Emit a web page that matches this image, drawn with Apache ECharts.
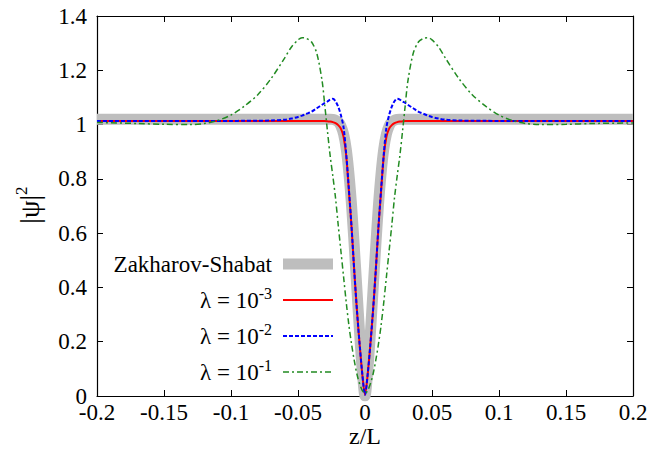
<!DOCTYPE html>
<html>
<head>
<meta charset="utf-8">
<script src="https://cdn.jsdelivr.net/npm/echarts@6/dist/echarts.min.js"></script>
<style>
  html, body { margin: 0; padding: 0; background: #fff; }
  #chart { width: 654px; height: 453px; }
</style>
</head>
<body>
<div id="chart"></div>
<script>
// Sample positions along z/L
const zGrid = [
  -0.2, -0.17, -0.15, -0.13, -0.12, -0.11, -0.1, -0.09, -0.08, -0.07, -0.06, -0.055,
  -0.05, -0.047, -0.044, -0.04, -0.036, -0.032, -0.03, -0.028, -0.026, -0.024, -0.022,
  -0.02, -0.018, -0.016, -0.014, -0.012, -0.01, -0.008, -0.006, -0.004, -0.002, 0,
  0.002, 0.004, 0.006, 0.008, 0.01, 0.012, 0.014, 0.016, 0.018, 0.02, 0.022, 0.024,
  0.026, 0.028, 0.03, 0.032, 0.036, 0.04, 0.044, 0.047, 0.05, 0.055, 0.06, 0.07,
  0.08, 0.09, 0.1, 0.11, 0.12, 0.13, 0.15, 0.17, 0.2
];

// |psi|^2, Zakharov-Shabat dark soliton
const zakharovShabat = [
  1.02, 1.02, 1.02, 1.02, 1.02, 1.02, 1.02, 1.02, 1.02, 1.02, 1.02, 1.02,
  1.02, 1.02, 1.02, 1.02, 1.02, 1.02, 1.02, 1.02, 1.02, 1.019, 1.016,
  1.01, 0.995, 0.965, 0.91, 0.82, 0.70, 0.55, 0.39, 0.23, 0.09, 0,
  0.09, 0.23, 0.39, 0.55, 0.70, 0.82, 0.91, 0.965, 0.995, 1.01, 1.016, 1.019,
  1.02, 1.02, 1.02, 1.02, 1.02, 1.02, 1.02, 1.02, 1.02, 1.02, 1.02, 1.02,
  1.02, 1.02, 1.02, 1.02, 1.02, 1.02, 1.02, 1.02, 1.02
];

// |psi|^2 for lambda = 1e-3
const lambda3 = [
  1.013, 1.013, 1.013, 1.013, 1.013, 1.013, 1.013, 1.013, 1.013, 1.013, 1.013, 1.013,
  1.013, 1.013, 1.013, 1.013, 1.013, 1.013, 1.013, 1.012, 1.011, 1.009, 1.005,
  0.998, 0.985, 0.955, 0.885, 0.755, 0.62, 0.46, 0.315, 0.19, 0.08, 0.005,
  0.08, 0.19, 0.315, 0.46, 0.62, 0.755, 0.885, 0.955, 0.985, 0.998, 1.005, 1.009,
  1.011, 1.012, 1.013, 1.013, 1.013, 1.013, 1.013, 1.013, 1.013, 1.013, 1.013, 1.013,
  1.013, 1.013, 1.013, 1.013, 1.013, 1.013, 1.013, 1.013, 1.013
];

// |psi|^2 for lambda = 1e-2
const lambda2 = [
  1.013, 1.013, 1.013, 1.013, 1.013, 1.013, 1.013, 1.014, 1.014, 1.015, 1.018, 1.022,
  1.028, 1.033, 1.039, 1.047, 1.06, 1.073, 1.08, 1.085, 1.092, 1.095, 1.086,
  1.066, 1.035, 0.99, 0.89, 0.76, 0.62, 0.46, 0.315, 0.19, 0.08, 0.005,
  0.08, 0.19, 0.315, 0.46, 0.62, 0.76, 0.89, 0.99, 1.035, 1.066, 1.086, 1.095,
  1.092, 1.085, 1.08, 1.073, 1.06, 1.047, 1.039, 1.033, 1.028, 1.022, 1.018, 1.015,
  1.014, 1.014, 1.013, 1.013, 1.013, 1.013, 1.013, 1.013, 1.013
];

// |psi|^2 for lambda = 1e-1
const lambda1 = [
  1.008, 1.004, 1.001, 1.0, 1.004, 1.015, 1.035, 1.068, 1.11, 1.17, 1.245, 1.285,
  1.312, 1.32, 1.318, 1.305, 1.263, 1.16, 1.07, 0.975, 0.885, 0.81, 0.73,
  0.63, 0.535, 0.44, 0.345, 0.26, 0.19, 0.13, 0.08, 0.045, 0.02, 0.01,
  0.02, 0.045, 0.08, 0.13, 0.19, 0.26, 0.345, 0.44, 0.535, 0.63, 0.73, 0.81,
  0.885, 0.975, 1.07, 1.16, 1.263, 1.305, 1.318, 1.32, 1.312, 1.285, 1.245, 1.17,
  1.11, 1.068, 1.035, 1.015, 1.004, 1.0, 1.001, 1.004, 1.006
];

const seriesNames = ['Zakharov-Shabat', 'λ = 10-3', 'λ = 10-2', 'λ = 10-1'];

const FONT = "'Liberation Serif', 'DejaVu Serif', serif";
const pairs = vals => zGrid.map((z, i) => [z, vals[i]]);

const chart = echarts.init(document.getElementById('chart'), null, { renderer: 'svg' });

const tickStyle = { show: true, inside: true, length: 6, lineStyle: { color: '#000', width: 1 } };
const lineAxis = { show: true, onZero: false, lineStyle: { color: '#000', width: 1.2 } };

// Legend rows (text right-aligned, sample line to the right)
const legendRows = [
  { y: 264, text: '{t|Zakharov-Shabat}', stroke: '#bebebe', width: 11, dash: null },
  { y: 300, text: '{t|λ = 10}{s|-3}', stroke: '#ff0000', width: 2, dash: null },
  { y: 336, text: '{t|λ = 10}{s|-2}', stroke: '#0000ff', width: 2, dash: [4, 2] },
  { y: 372, text: '{t|λ = 10}{s|-1}', stroke: '#228b22', width: 1.5, dash: [6, 3, 2, 3] }
];
const overlayGraphics = [];
legendRows.forEach(r => {
  overlayGraphics.push({
    type: 'text', x: 272, y: r.y, z: 10,
    style: {
      text: r.text, align: 'right', verticalAlign: 'middle',
      rich: {
        t: { fontFamily: FONT, fontSize: 23, fill: '#000' },
        s: { fontFamily: FONT, fontSize: 16, fill: '#000', padding: [0, 0, 14, 0] }
      }
    }
  });
  overlayGraphics.push({
    type: 'line', z: 10,
    shape: { x1: 283, y1: r.y, x2: 333, y2: r.y },
    style: { stroke: r.stroke, lineWidth: r.width, lineDash: r.dash }
  });
});

// Horizontal axis title
overlayGraphics.push({
  type: 'text', x: 365, y: 436,
  style: {
    text: 'z/L', fontFamily: FONT, fontSize: 24, fill: '#000',
    align: 'center', verticalAlign: 'middle', lineHeight: 24
  }
});

// Vertical axis title |psi|^2, turned to read upward
overlayGraphics.push({
  type: 'group', x: 29, y: 205, rotation: Math.PI / 2,
  children: [{
    type: 'text', x: 0, y: 0,
    style: {
      text: '{t||ψ|}{s|2}', align: 'center', verticalAlign: 'middle',
      rich: {
        t: { fontFamily: FONT, fontSize: 28, fill: '#000' },
        s: { fontFamily: FONT, fontSize: 17, fill: '#000', padding: [0, 0, 16, 0] }
      }
    }
  }]
});

chart.setOption({
  animation: false,
  backgroundColor: '#fff',
  grid: { left: 97, right: 21, top: 16, bottom: 57, containLabel: false, outerBoundsMode: 'none' },
  xAxis: [
    {
      type: 'value', min: -0.2, max: 0.2, interval: 0.05, position: 'bottom',
      axisLine: lineAxis, axisTick: tickStyle, splitLine: { show: false },
      axisLabel: { fontFamily: FONT, fontSize: 23, lineHeight: 16, color: '#000', margin: 8 }
    },
    {
      type: 'value', min: -0.2, max: 0.2, interval: 0.05, position: 'top',
      axisLine: lineAxis, axisTick: tickStyle, splitLine: { show: false },
      axisLabel: { show: false }
    }
  ],
  yAxis: [
    {
      type: 'value', min: 0, max: 1.4, interval: 0.2, position: 'left',
      axisLine: lineAxis, axisTick: tickStyle, splitLine: { show: false },
      axisLabel: { fontFamily: FONT, fontSize: 23, lineHeight: 16, color: '#000', margin: 10 }
    },
    {
      type: 'value', min: 0, max: 1.4, interval: 0.2, position: 'right',
      axisLine: lineAxis, axisTick: tickStyle, splitLine: { show: false },
      axisLabel: { show: false }
    }
  ],
  series: [
    {
      name: seriesNames[0], type: 'line', data: pairs(zakharovShabat), showSymbol: false,
      smooth: 0.3, clip: true, z: 1,
      lineStyle: { color: '#bebebe', width: 11 }
    },
    {
      name: seriesNames[1], type: 'line', data: pairs(lambda3), showSymbol: false,
      smooth: 0.3, clip: true, z: 2,
      lineStyle: { color: '#ff0000', width: 2 }
    },
    {
      name: seriesNames[2], type: 'line', data: pairs(lambda2), showSymbol: false,
      smooth: 0.3, clip: true, z: 3,
      lineStyle: { color: '#0000ff', width: 2, type: [4, 2] }
    },
    {
      name: seriesNames[3], type: 'line', data: pairs(lambda1), showSymbol: false,
      smooth: 0.3, clip: true, z: 4,
      lineStyle: { color: '#228b22', width: 1.5, type: [6, 3, 2, 3] }
    }
  ],
  graphic: overlayGraphics
});
</script>
</body>
</html>
